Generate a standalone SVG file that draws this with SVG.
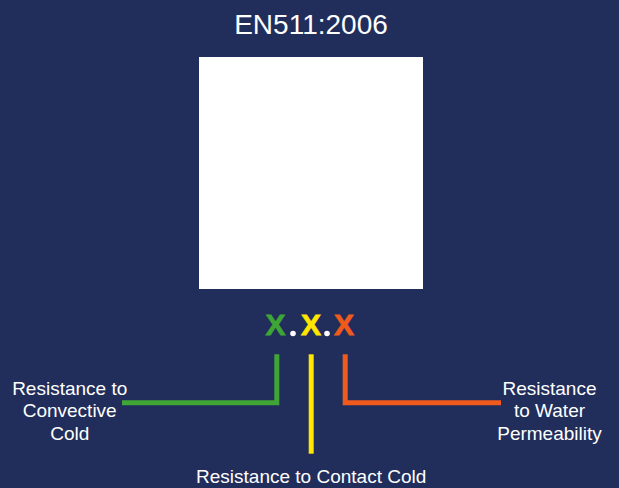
<svg xmlns="http://www.w3.org/2000/svg" width="619" height="488" viewBox="0 0 619 488">
<style>
.t{font-family:"Liberation Sans",Arial,sans-serif;fill:#ffffff;text-anchor:middle}
.lbl{font-size:19px}
.x{font-family:"Liberation Sans",Arial,sans-serif;font-weight:bold;font-size:30px;text-anchor:middle}
.ln{fill:none;stroke-width:5;stroke-linecap:butt;stroke-linejoin:miter}
</style>
<rect x="0" y="0" width="619" height="488" fill="#212e5c"/>
<g id="title"><text class="t" x="311" y="34" font-size="28">EN511:2006</text></g>
<g id="image"><rect x="199" y="57" width="224" height="232" fill="#ffffff"/></g>
<g id="code">
<text class="x" x="275.5" y="335" fill="#3fa535" stroke="#3fa535" stroke-width="0.8">X</text>
<circle cx="293" cy="333.5" r="2.8" fill="#ffffff"/>
<text class="x" x="311" y="335" fill="#ffe600" stroke="#ffe600" stroke-width="0.8">X</text>
<circle cx="327" cy="333.5" r="2.8" fill="#ffffff"/>
<text class="x" x="344" y="335" fill="#f05a1c" stroke="#f05a1c" stroke-width="0.8">X</text>
</g>
<g id="connectors">
<polyline class="ln" stroke="#3fa535" points="276.8,354.3 276.8,402.8 122,402.8"/>
<line class="ln" stroke="#ffe600" x1="311.2" y1="354.3" x2="311.2" y2="453.7"/>
<polyline class="ln" stroke="#f05a1c" points="345.2,354.3 345.2,402.8 501,402.8"/>
</g>
<g id="label-convective">
<text class="t lbl" x="69.7" y="394.5">Resistance to</text>
<text class="t lbl" x="69.7" y="417.3">Convective</text>
<text class="t lbl" x="69.7" y="439.5">Cold</text>
</g>
<g id="label-contact">
<text class="t lbl" x="311.2" y="483">Resistance to Contact Cold</text>
</g>
<g id="label-water">
<text class="t lbl" x="549.5" y="394.5">Resistance</text>
<text class="t lbl" x="549.5" y="417.3">to Water</text>
<text class="t lbl" x="549.5" y="439.5">Permeability</text>
</g>
</svg>
